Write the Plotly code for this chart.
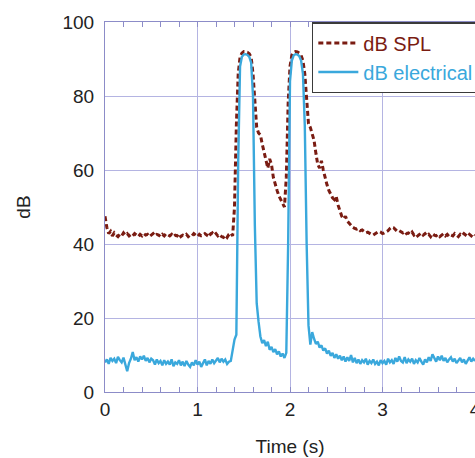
import plotly.graph_objects as go

# time axis (s), step 0.02
time_s = [round(i * 0.02, 2) for i in range(201)]

db_spl = [
    47.5, 44.5, 42.8, 43.4, 42.2, 43.0, 42.4, 42.0, 42.6, 42.2,
    43.0, 42.4, 42.8, 42.2, 42.6, 42.2, 42.8, 42.4, 42.0, 42.6,
    42.2, 42.8, 42.4, 42.6, 42.0, 42.4, 42.8, 42.2, 42.6, 42.4,
    42.0, 42.6, 42.2, 42.8, 42.4, 42.2, 42.6, 42.0, 42.4, 42.2,
    42.8, 42.0, 42.4, 42.2, 42.6, 42.0, 42.4, 42.2, 42.8, 42.4,
    42.0, 42.6, 42.2, 42.4, 42.8, 42.4, 43.2, 42.6, 43.0, 42.4,
    42.8, 42.2, 42.6, 42.0, 41.8, 42.4, 41.8, 42.6, 43.0, 42.2,
    50.0, 72.0, 86.0, 90.5, 91.6, 92.0, 92.0, 91.8, 91.4, 90.5,
    86.0, 78.0, 71.5, 70.0, 69.5, 67.0, 64.5, 62.5, 60.5, 63.0,
    61.5, 58.0, 56.0, 54.5, 53.0, 52.0, 51.0, 50.0, 58.0, 78.0,
    88.0, 91.0, 91.8, 92.0, 91.9, 91.6, 91.0, 89.5, 86.0, 79.0,
    72.5, 71.5, 70.0, 68.0, 64.5, 61.5, 60.5, 62.5, 60.0, 57.5,
    56.0, 54.5, 53.5, 52.5, 52.0, 52.8, 50.5, 49.0, 47.5, 46.8,
    47.5, 46.2, 45.6, 44.8, 44.5, 44.2, 44.0, 44.2, 43.6, 43.8,
    43.4, 43.0, 43.2, 42.8, 42.6, 42.4, 42.8, 43.0, 43.4, 43.2,
    42.8, 43.0, 43.2, 43.6, 44.2, 44.6, 44.4, 43.8, 43.4, 43.6,
    43.2, 43.0, 43.4, 42.8, 43.0, 42.6, 43.2, 42.4, 42.8, 42.2,
    42.6, 43.0, 42.4, 42.8, 42.2, 42.6, 42.0, 42.8, 42.4, 42.2,
    42.6, 42.0, 42.4, 42.8, 42.2, 42.6, 42.0, 42.4, 42.2, 42.8,
    42.4, 42.0, 42.6, 42.2, 42.8, 42.4, 42.0, 42.6, 42.2, 42.8,
    42.4,
]

db_electrical = [
    8.0, 8.8, 7.6, 9.2, 8.4, 9.0, 7.8, 9.5, 8.6, 8.0,
    9.3, 7.2, 5.6, 7.8, 9.0, 10.8, 8.6, 9.4, 8.2, 9.6,
    8.8, 9.8, 8.4, 9.2, 8.0, 9.0, 8.6, 7.4, 8.8, 7.8,
    8.4, 7.2, 8.6, 7.6, 8.2, 7.4, 8.8, 7.0, 8.0, 7.6,
    8.6, 7.2, 8.2, 7.0, 8.4, 7.4, 6.8, 8.0, 7.2, 8.6,
    7.4, 8.2, 6.8, 7.8, 8.8, 7.2, 8.4, 7.6, 8.8, 7.8,
    8.6, 9.2, 8.0, 9.0, 8.2, 8.8, 7.6, 8.2, 8.4, 11.0,
    14.2, 15.5, 62.0, 88.0, 90.6, 91.2, 91.3, 91.1, 90.6, 89.0,
    80.0, 45.0, 24.0, 19.0, 15.0, 13.2, 14.0, 12.4, 13.6, 11.4,
    12.2, 10.8, 11.6, 10.2, 11.0, 9.6, 10.4, 9.2, 10.6, 40.0,
    84.0, 89.6, 91.0, 91.3, 91.2, 90.8, 89.6, 86.0, 72.0, 40.0,
    18.0, 12.8, 16.2, 14.4, 13.0, 13.6, 12.0, 12.6, 11.2, 11.8,
    10.4, 11.2, 9.8, 10.6, 9.2, 10.2, 9.0, 9.8, 8.6, 9.6,
    8.2, 9.4, 8.4, 10.0, 8.0, 9.2, 7.8, 8.8, 7.6, 8.6,
    8.0, 9.0, 7.4, 8.4, 7.8, 8.8, 7.6, 8.2, 7.2, 8.6,
    7.8, 8.4, 7.4, 9.0, 8.0, 8.6, 7.6, 9.2, 8.2, 9.6,
    8.4, 8.0, 9.4, 7.8, 8.8, 8.2, 9.0, 7.6, 8.6, 8.0,
    9.2, 8.2, 7.4, 8.8, 8.0, 9.4, 8.4, 10.2, 9.0, 8.2,
    9.6, 8.6, 9.8, 8.4, 9.2, 8.0, 8.8, 9.4, 8.2, 9.0,
    7.8, 8.6, 9.2, 8.0, 8.8, 7.6, 8.6, 9.4, 8.2, 9.0,
    8.4,
]

x_ticks = [0, 1, 2, 3, 4]
y_ticks = [0, 20, 40, 60, 80, 100]

SPL_COLOR = "#7a1c12"
ELEC_COLOR = "#3aa8dc"
GRID = "#b4b4e2"
AXIS = "#8c8cc8"
FONT = "Liberation Sans, Arial, sans-serif"

fig = go.Figure()
fig.add_trace(go.Scatter(
    x=time_s, y=db_spl, mode="lines",
    name=f"<span style='color:{SPL_COLOR}'>dB SPL</span>",
    line=dict(color=SPL_COLOR, width=3, dash="5px,3px"),
))
fig.add_trace(go.Scatter(
    x=time_s, y=db_electrical, mode="lines",
    name=f"<span style='color:{ELEC_COLOR}'>dB electrical</span>",
    line=dict(color=ELEC_COLOR, width=2.4),
))

fig.update_layout(
    width=475, height=458,
    margin=dict(l=105, r=0, t=22, b=66, autoexpand=False),
    paper_bgcolor="white", plot_bgcolor="white",
    font=dict(family=FONT, size=19, color="#222"),
    showlegend=True,
    legend=dict(
        x=0.559, y=1, xanchor="left", yanchor="top",
        bgcolor="white", bordercolor="#3a3a3a", borderwidth=1.5,
        font=dict(size=20), tracegroupgap=0, itemwidth=40,
        entrywidth=180, entrywidthmode="pixels",
    ),
)
fig.update_xaxes(
    range=[0, 4], tickvals=x_ticks, ticktext=[str(v) for v in x_ticks],
    automargin=False, ticklabeloverflow="allow",
    showgrid=True, gridcolor=GRID, gridwidth=1,
    showline=True, linecolor=AXIS, linewidth=1, mirror="allticks",
    ticks="inside", ticklen=5, tickcolor=AXIS,
    minor=dict(dtick=0.2, ticks="inside", ticklen=5, tickcolor=AXIS, showgrid=False),
    zeroline=False,
    title=dict(text="Time (s)", font=dict(size=19, color="#222"), standoff=20),
)
fig.update_yaxes(
    range=[0, 100], tickvals=y_ticks, ticktext=[str(v) for v in y_ticks],
    automargin=False, ticklabelstandoff=6,
    showgrid=True, gridcolor=GRID, gridwidth=1,
    showline=True, linecolor=AXIS, linewidth=1, mirror=True,
    ticks="", zeroline=False,
    title=dict(text="dB", font=dict(size=19, color="#222"), standoff=26),
)

fig.write_html(
    "out.html",
    config={"displayModeBar": False},
    post_script="document.body.style.margin='0';document.body.style.overflow='hidden';",
)
